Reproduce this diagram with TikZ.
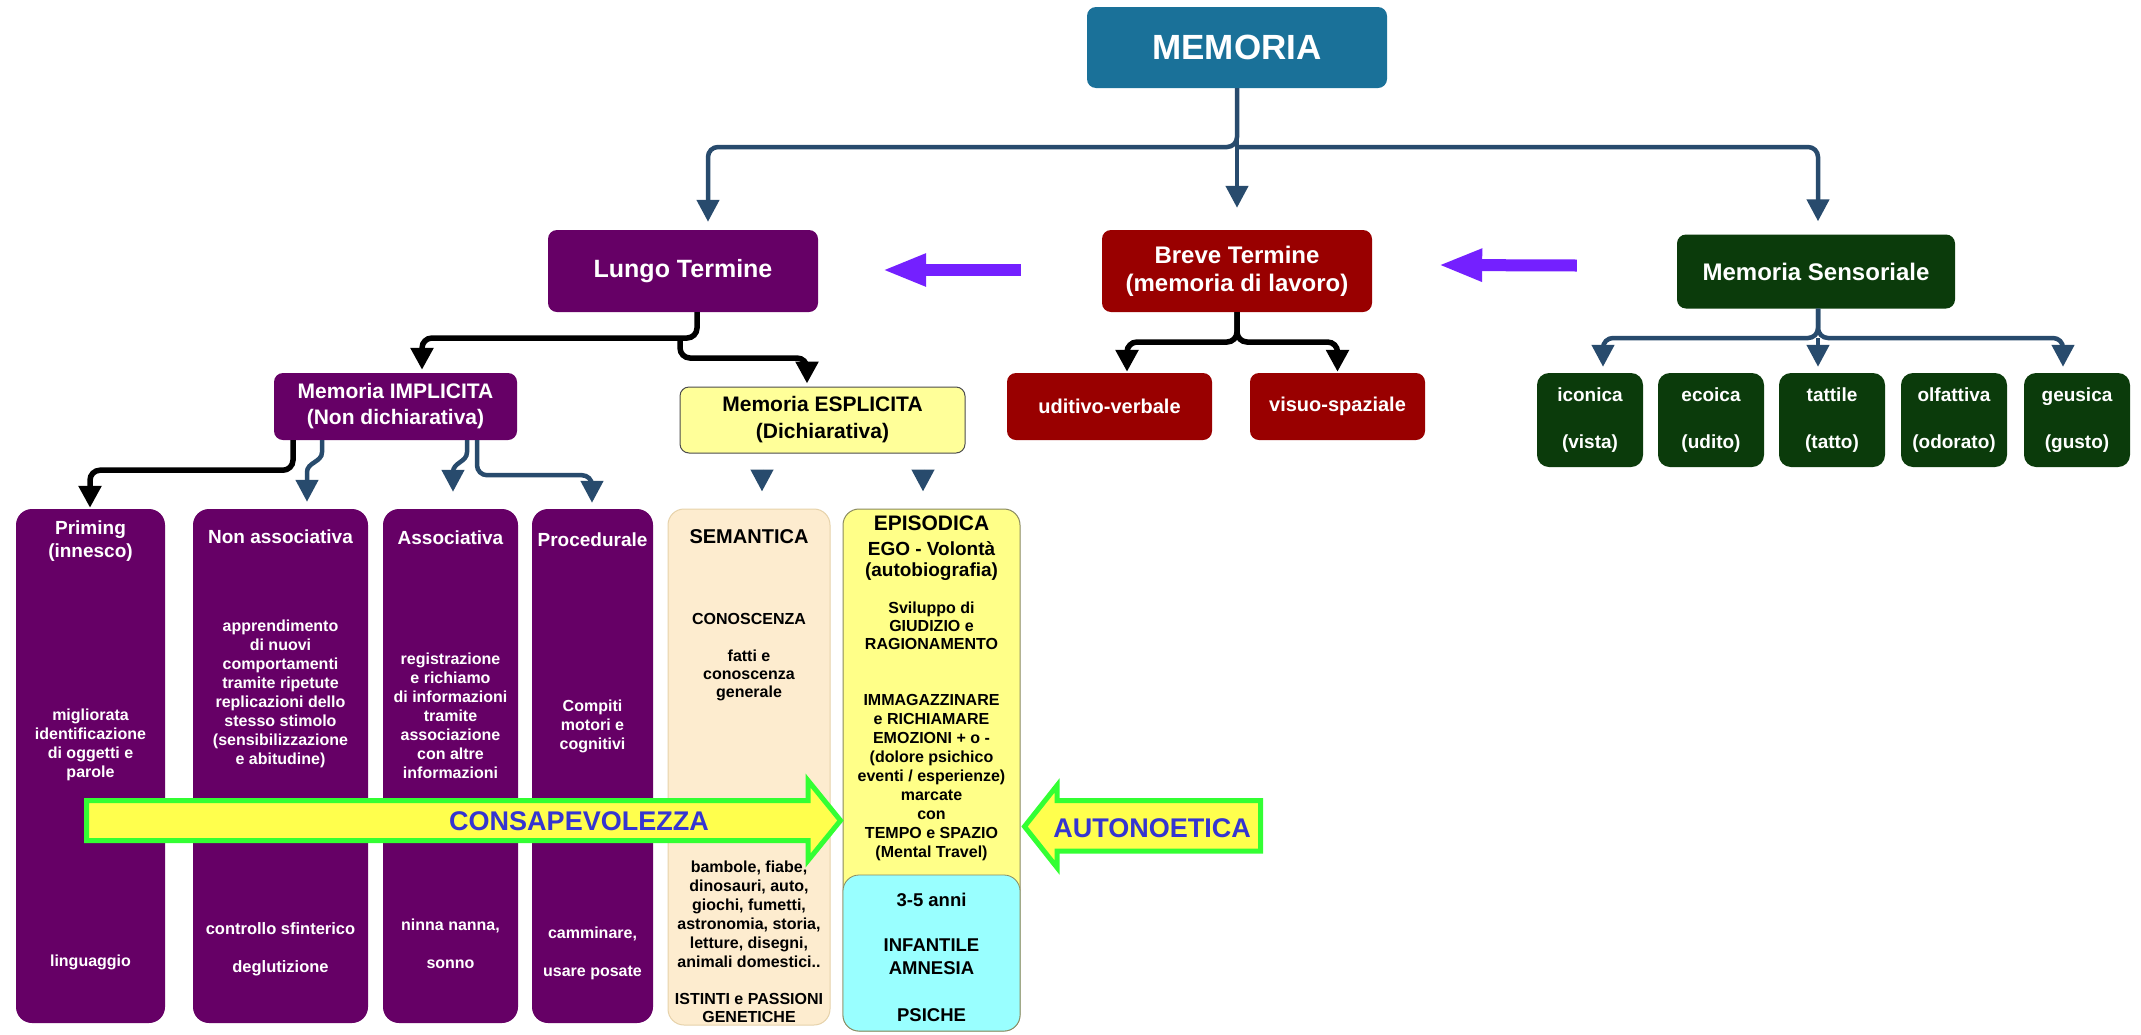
\documentclass[tikz,border=0pt]{standalone}
\usepackage{fontspec}
\setmainfont{Liberation Sans}
\usetikzlibrary{arrows.meta,calc}
\newcommand\myfs[2]{\fontsize{#1pt}{#2pt}\selectfont\bfseries}
\definecolor{memblue}{HTML}{1A7199}
\definecolor{purp}{HTML}{660066}
\definecolor{dred}{HTML}{990000}
\definecolor{dgreen}{HTML}{0B3B0B}
\definecolor{steel}{HTML}{284B6D}
\definecolor{varrowcol}{HTML}{7420FF}
\definecolor{peach}{HTML}{FDECCF}
\definecolor{peachline}{HTML}{E6D2AA}
\definecolor{epiyellow}{HTML}{FFFF88}
\definecolor{epiline}{HTML}{8A8A60}
\definecolor{expyellow}{HTML}{FFFF99}
\definecolor{cyanfill}{HTML}{99FFFF}
\definecolor{arrowyellow}{HTML}{FFFF4D}
\definecolor{arrowgreen}{HTML}{33FF33}
\definecolor{textblue}{HTML}{3535D0}
\begin{document}
\begin{tikzpicture}[x=1pt,y=-1pt,
  topbox/.style={rectangle, rounded corners=9pt, inner sep=0pt, align=center, text=white, font=\myfs{24}{28}},
  gbox/.style={rectangle, rounded corners=12pt, inner sep=0pt, align=center, text=white, fill=dgreen, minimum width=106pt, minimum height=94pt, font=\myfs{19}{47}},
  col/.style={rectangle, rounded corners=16pt, inner sep=0pt, fill=purp, minimum height=514pt},
  txt/.style={inner sep=0pt, align=center, text=white, font=\myfs{16}{19}},
  btxt/.style={inner sep=0pt, align=center, text=black, font=\myfs{16}{19}},
  bconn/.style={draw=steel, line width=4.5pt, rounded corners=10pt, -{Triangle[length=22pt,width=22pt]}},
  kconn/.style={draw=black, line width=5.5pt, rounded corners=10pt, -{Triangle[length=22pt,width=22pt]}},
  varrow/.style={draw=varrowcol, line width=12pt, -{Triangle[length=44pt,width=30pt]}},
  bigarrow/.style={fill=arrowyellow, draw=arrowgreen, line width=5pt, line join=miter}
]
\useasboundingbox (0,0) rectangle (2141,1034);
\fill[white] (0,0) rectangle (2141,1034);

% ---- top level boxes
\node[topbox, fill=memblue, minimum width=300pt, minimum height=81pt, font=\myfs{35}{40}] (memoria) at (1237,47.5) {MEMORIA};
\node[topbox, fill=purp, minimum width=270pt, minimum height=82pt, font=\myfs{25}{30}] (lungo) at (683,271) {Lungo Termine};
\node[topbox, fill=dred, minimum width=270pt, minimum height=82pt] (breve) at (1237,271) {Breve Termine\\(memoria di lavoro)};
\node[topbox, fill=dgreen, minimum width=278pt, minimum height=74pt] (sensoriale) at (1816,271.5) {Memoria Sensoriale};

\node[topbox, fill=dred, minimum width=205pt, minimum height=67pt, font=\myfs{20}{24}] (uditivo) at (1109.5,406.5) {uditivo-verbale};
\node[topbox, fill=dred, minimum width=175pt, minimum height=67pt, font=\myfs{20}{24}] (visuo) at (1337.5,406.5) {visuo-spaziale};

\node[gbox] (iconica) at (1590,420) {iconica\\(vista)};
\node[gbox] (ecoica) at (1711,420) {ecoica\\(udito)};
\node[gbox] (tattile) at (1832,420) {tattile\\(tatto)};
\node[gbox] (olfattiva) at (1954,420) {olfattiva\\(odorato)};
\node[gbox] (geusica) at (2077,420) {geusica\\(gusto)};

\node[topbox, fill=purp, minimum width=243pt, minimum height=67pt, font=\myfs{21}{26}] (implicita) at (395.5,406.5) {Memoria IMPLICITA\\(Non dichiarativa)};
\node[topbox, fill=expyellow, draw=black!70, line width=1pt, text=black, minimum width=285pt, minimum height=66pt, font=\myfs{21}{27}] (esplicita) at (822.5,420) {Memoria ESPLICITA\\(Dichiarativa)};

% ---- columns
\node[col, minimum width=149pt] (priming) at (90.5,766) {};
\node[col, minimum width=175pt] (nonassoc) at (280.5,766) {};
\node[col, minimum width=135pt] (assoc) at (450.5,766) {};
\node[col, minimum width=121pt] (proced) at (592.5,766) {};
\node[col, fill=peach, draw=peachline, line width=1pt, minimum width=162pt, minimum height=516pt] (semantica) at (749,767) {};
\node[col, fill=epiyellow, draw=epiline, line width=1pt, minimum width=177pt, minimum height=522pt] (episodica) at (931.5,770) {};
\node[rectangle, rounded corners=16pt, fill=cyanfill, draw=epiline, line width=0.8pt, inner sep=0pt, minimum width=177pt, minimum height=156pt] (amnesia) at (931.5,953) {};

% ---- column texts
\node[txt, font=\myfs{19}{23}] (primingh) at (90.5,541.5) {Priming\\(innesco)};
\node[txt] (primingb) at (90.5,745) {migliorata\\identificazione\\di oggetti e\\parole};
\node[txt] (primingc) at (90.5,962) {linguaggio};

\node[txt, font=\myfs{19}{23}] (nonassoch) at (280.5,537) {Non associativa};
\node[txt] (nonassocb) at (280.5,693.5) {apprendimento\\di nuovi\\comportamenti\\tramite ripetute\\replicazioni dello\\stesso stimolo\\(sensibilizzazione\\e abitudine)};
\node[txt, font=\myfs{16.5}{38}] (nonassocc) at (280.5,949) {controllo sfinterico\\deglutizione};

\node[txt, font=\myfs{19}{23}] (assoch) at (450.5,538) {Associativa};
\node[txt] (assocb) at (450.5,715.5) {registrazione\\e richiamo\\di informazioni\\tramite\\associazione\\con altre\\informazioni};
\node[txt, font=\myfs{16}{38}] (assocc) at (450.5,944) {ninna nanna,\\sonno};

\node[txt, font=\myfs{19}{23}] (procedh) at (592.5,540) {Procedurale};
\node[txt] (procedb) at (592.5,726) {Compiti\\motori e\\cognitivi};
\node[txt, font=\myfs{16}{38}] (procedc) at (592.5,953) {camminare,\\usare posate};

\node[btxt, font=\myfs{20}{24}] (semh) at (749,537) {SEMANTICA};
\node[btxt] (semc) at (749,619) {CONOSCENZA};
\node[btxt, font=\myfs{16}{18}] (semb) at (749,675) {fatti e\\conoscenza\\generale};
\node[btxt] (seml) at (749,914.5) {bambole, fiabe,\\dinosauri, auto,\\giochi, fumetti,\\astronomia, storia,\\letture, disegni,\\animali domestici..};
\node[btxt, font=\myfs{16}{18.5}] (semg) at (749,1008) {ISTINTI e PASSIONI\\GENETICHE};

\node[btxt, font=\myfs{21}{24}] (epih) at (931.5,523) {EPISODICA};
\node[btxt, font=\myfs{19}{21}] (epiego) at (931.5,561.5) {EGO - Volontà\\(autobiografia)};
\node[btxt, font=\myfs{16}{18}] (episv) at (931.5,626) {Sviluppo di\\GIUDIZIO e\\RAGIONAMENTO};
\node[btxt] (epiim) at (931.5,777.5) {IMMAGAZZINARE\\e RICHIAMARE\\EMOZIONI + o -\\(dolore psichico\\eventi / esperienze)\\marcate\\con\\TEMPO e SPAZIO\\(Mental Travel)};
\node[btxt, font=\myfs{18.5}{23}] (amn1) at (931.5,900) {3-5 anni};
\node[btxt, font=\myfs{18.5}{23}] (amn2) at (931.5,956.5) {INFANTILE\\AMNESIA};
\node[btxt, font=\myfs{18.5}{23}] (amn3) at (931.5,1015) {PSICHE};

% ---- connectors
\coordinate (hub) at (1237,147);
\draw[bconn] (memoria.south) -- (hub) -| ($(lungo.north)+(25,-8)$);
\draw[bconn] (hub) -| ($(sensoriale.north)+(2,-13)$);
\draw[bconn] (memoria.south) -- ($(breve.north)+(0,-22)$);

\coordinate (bhub) at (1237,342);
\draw[kconn] (breve.south) -- (bhub) -| ($(uditivo.north)+(17.5,-1)$);
\draw[kconn] (breve.south) -- (bhub) -| ($(visuo.north)+(0,-1)$);

\coordinate (shub) at (1818,338);
\draw[bconn] ($(sensoriale.south)+(2,0)$) -- (shub) -| ($(iconica.north)+(13,-6)$);
\draw[bconn] ($(sensoriale.south)+(2,0)$) -- (shub) -| ($(geusica.north)+(-14,-6)$);
\draw[bconn] (shub) -- ($(tattile.north)+(-14,-6)$);

\coordinate (lhub) at (697,338);
\draw[kconn] ($(lungo.south)+(14,0)$) -- (lhub) -| ($(implicita.north)+(26.5,-3)$);
\draw[kconn] ($(lhub)+(-17,0)$) -- ++(0,20) -| ($(esplicita.north)+(-15.5,-3)$);

\draw[kconn] ($(implicita.south)+(-102.5,0)$) -- ++(0,30) -| ($(priming.north)+(-0.5,-1)$);
\draw[bconn, rounded corners=0pt] ($(implicita.south)+(-73.5,0)$) -- ++(0,12) .. controls +(0,10) and +(0,-10) .. ++(-15,20) -- ($(nonassoc.north)+(26.5,-7)$);
\draw[bconn, rounded corners=0pt] ($(implicita.south)+(71.5,0)$) -- ++(0,12) .. controls +(0,10) and +(0,-10) .. ++(-14,20) -- ($(assoc.north)+(2.5,-17)$);
\draw[bconn] ($(implicita.south)+(81.5,0)$) -- ++(0,35) -| ($(proced.north)+(-0.5,-6)$);

\draw[bconn, shorten <=16pt, shorten >=17pt] ($(esplicita.south)+(-60.5,0)$) -- ($(semantica.north)+(13,0)$);
\draw[bconn, shorten <=16pt, shorten >=17pt] ($(esplicita.south)+(100.5,0)$) -- ($(episodica.north)+(-8.5,0)$);

% ---- violet flow arrows
\draw[varrow] ($(breve.west)+(-81,-1)$) -- ($(lungo.east)+(64,-1)$);
\draw[varrow] ($(sensoriale.west)+(-100,-6)$) -- ($(breve.east)+(66,-6)$);

% ---- big yellow arrows
\draw[bigarrow] (86.5,800.5) -- (808,800.5) -- (808,780.5) -- (840.5,820.5) -- (808,860.5) -- (808,840.5) -- (86.5,840.5) -- cycle;
\node[inner sep=0pt, text=textblue, font=\myfs{27}{30}] (consap) at (579,821) {CONSAPEVOLEZZA};
\draw[bigarrow] (1024.5,826.5) -- (1057,785.5) -- (1057,800.5) -- (1260.5,800.5) -- (1260.5,851) -- (1057,851) -- (1057,867.5) -- cycle;
\node[inner sep=0pt, text=textblue, font=\myfs{27}{30}] (autonoetica) at (1152,828) {AUTONOETICA};
\end{tikzpicture}
\end{document}
